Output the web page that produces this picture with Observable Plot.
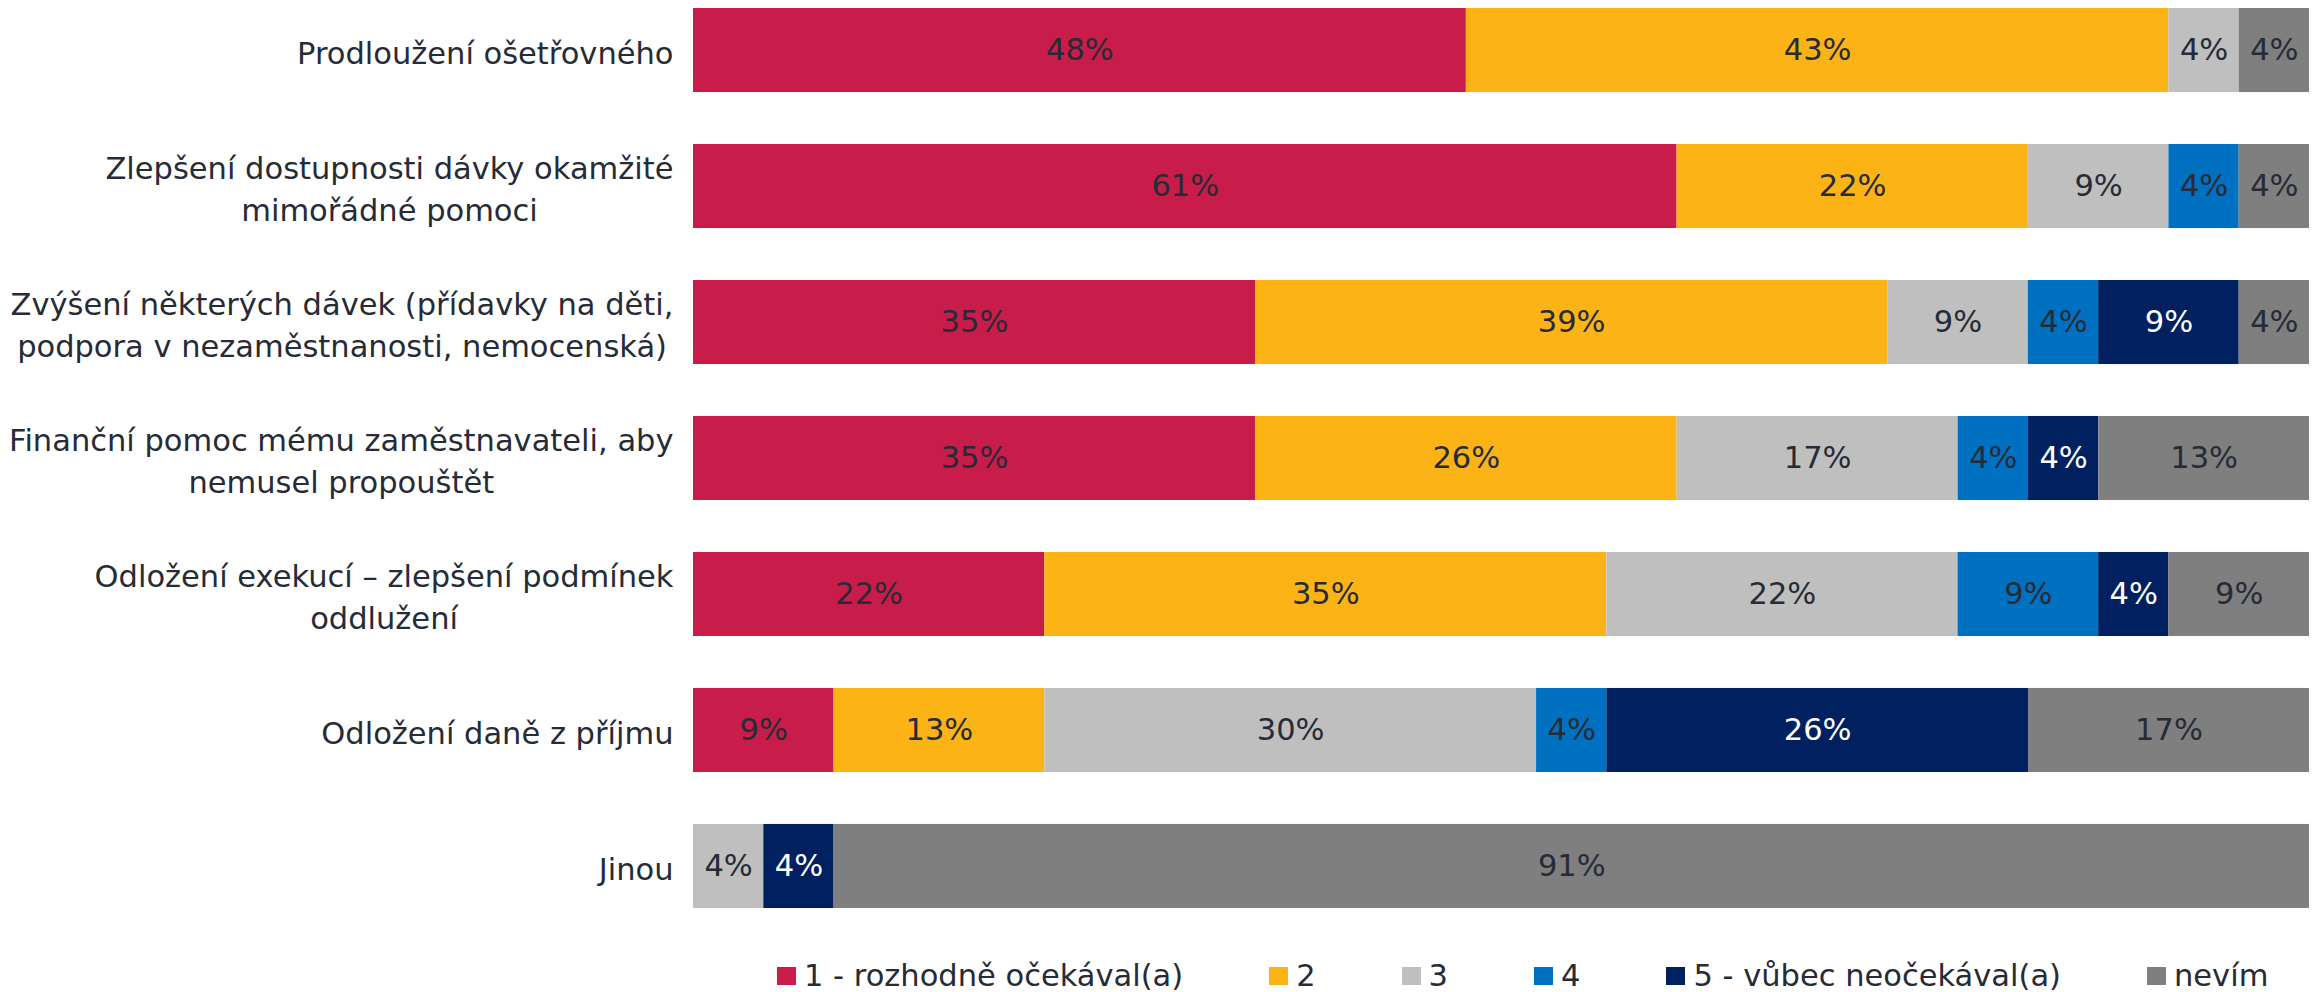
<!DOCTYPE html>
<html><head><meta charset="utf-8">
<script src="https://cdn.jsdelivr.net/npm/d3@7"></script>
<script src="https://cdn.jsdelivr.net/npm/@observablehq/plot@0.6"></script>
<style>
body{margin:0;background:#fff;font-family:"DejaVu Sans",Verdana,sans-serif;}
#chart{position:relative;width:2316px;height:992px;overflow:hidden}
#legend{position:absolute;left:777px;top:956px;display:flex;align-items:center;font-size:30.5px;color:#262B36;white-space:nowrap;line-height:40px}
.item{display:flex;align-items:center;margin-right:86px}
.sw{width:19px;height:18px;margin-right:8px}
</style></head><body><div id="chart"></div>
<script>
const categories = [
  "Prodloužení ošetřovného",
  "Zlepšení dostupnosti dávky okamžité\nmimořádné pomoci",
  "Zvýšení některých dávek (přídavky na děti,\npodpora v nezaměstnanosti, nemocenská)",
  "Finanční pomoc mému zaměstnavateli, aby\nnemusel propouštět",
  "Odložení exekucí – zlepšení podmínek\noddlužení",
  "Odložení daně z příjmu",
  "Jinou"
];
const seriesNames = ["1 - rozhodně očekával(a)", "2", "3", "4", "5 - vůbec neočekával(a)", "nevím"];
const seriesColors = ["#C81C4A", "#FCB316", "#BFBFBF", "#0070C0", "#002060", "#7F7F7F"];
const s1 = [47.83, 60.87, 34.78, 34.78, 21.74, 8.70, 0];
const s2 = [43.48, 21.74, 39.13, 26.09, 34.78, 13.04, 0];
const s3 = [4.35, 8.70, 8.70, 17.39, 21.74, 30.43, 4.35];
const s4 = [0, 4.35, 4.35, 4.35, 8.70, 4.35, 0];
const s5 = [0, 0, 8.70, 4.35, 4.35, 26.09, 4.35];
const s6 = [4.35, 4.35, 4.35, 13.04, 8.70, 17.39, 91.30];

const seriesValues = [s1, s2, s3, s4, s5, s6];
const data = [];
categories.forEach((c, i) => {
  seriesNames.forEach((s, j) => {
    const v = seriesValues[j][i];
    if (v > 0) data.push({cat: c, series: s, value: v});
  });
});

const textColor = "#262B36";
const fontSize = 30.5;
const ctx = document.createElement("canvas").getContext("2d");
ctx.font = `${fontSize}px "DejaVu Sans"`;
const labelWidth = (t) => Math.max(...t.split("\n").map(l => ctx.measureText(l).width));

const stackOpts = (extra) => Plot.stackX({x: "value", y: "cat", z: "series", order: seriesNames, offset: "normalize", ...extra});
const navy = seriesNames[4];

const labelMarks = categories.map(c => Plot.text([c], {
  y: d => d,
  frameAnchor: "left",
  textAnchor: "middle",
  dx: -(20 + labelWidth(c) / 2),
  fill: textColor,
  fontSize: fontSize,
  lineHeight: 1.38,
  text: d => d
}));

const chart = Plot.plot({
  width: 2316,
  height: 935,
  marginLeft: 693,
  marginRight: 7,
  marginTop: 8,
  marginBottom: 27,
  style: {fontFamily: '"DejaVu Sans", Verdana, sans-serif', background: "#fff"},
  x: {axis: null},
  y: {axis: null, domain: categories, paddingInner: 0.382, paddingOuter: 0, round: false},
  color: {domain: seriesNames, range: seriesColors},
  marks: [
    Plot.barX(data, stackOpts({fill: "series"})),
    Plot.text(data, stackOpts({text: d => d.series === navy ? "" : Math.round(d.value) + "%", fill: textColor, fontSize: fontSize})),
    Plot.text(data, stackOpts({text: d => d.series === navy ? Math.round(d.value) + "%" : "", fill: "#ffffff", fontSize: fontSize})),
    ...labelMarks
  ]
});

const root = document.getElementById("chart");
root.appendChild(chart);

const legend = document.createElement("div");
legend.id = "legend";
seriesNames.forEach((s, i) => {
  const item = document.createElement("div");
  item.className = "item";
  if (i === seriesNames.length - 1) item.style.marginRight = "0";
  const sw = document.createElement("span");
  sw.className = "sw";
  sw.style.background = seriesColors[i];
  const t = document.createElement("span");
  t.textContent = s;
  item.appendChild(sw);
  item.appendChild(t);
  legend.appendChild(item);
});
root.appendChild(legend);
</script>
</body></html>
